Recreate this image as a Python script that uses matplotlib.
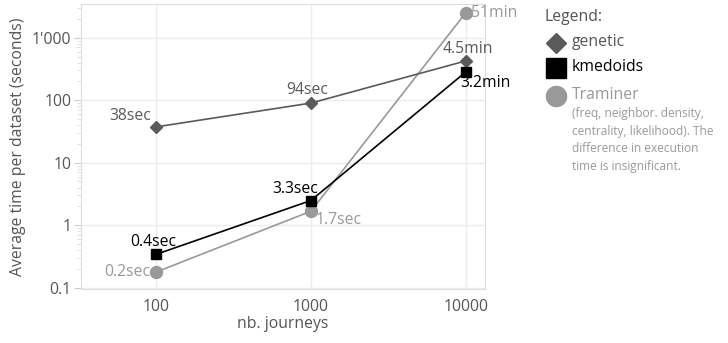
import matplotlib
matplotlib.use("Agg")
import matplotlib.pyplot as plt
from matplotlib.ticker import FixedLocator, FixedFormatter, LogLocator, NullFormatter
from matplotlib.lines import Line2D

plt.rcParams['font.family'] = ['Open Sans', 'DejaVu Sans']

journeys = [100, 1000, 10000]
genetic = [37.4, 90, 426]
kmedoids = [0.34, 2.48, 284]
traminer = [0.177, 1.67, 2520]
genetic_labels = ["38sec", "94sec", "4.5min"]
kmedoids_labels = ["0.4sec", "3.3sec", "3.2min"]
traminer_labels = ["0.2sec", "1.7sec", "51min"]
y_ticks = [0.1, 1, 10, 100, 1000]
y_ticklabels = ["0.1", "1", "10", "100", "1'000"]
x_ticks = [100, 1000, 10000]
x_ticklabels = ["100", "1000", "10000"]

c_gen = "#5a5a5a"
c_km = "#000000"
c_tr = "#999999"
c_txt = "#555555"

fig = plt.figure(figsize=(7.28, 3.43), dpi=100)
ax = fig.add_axes([81/728, 1-289/343, (485-81)/728, (289-4)/343])
ax.set_xscale('log')
ax.set_yscale('log')
ax.set_xlim(32.8, 13300)
ax.set_ylim(0.095, 3470)

ax.plot(journeys, genetic, color=c_gen, lw=1.2, marker='D', ms=5.8, zorder=3)
ax.plot(journeys, kmedoids, color=c_km, lw=1.2, marker='s', ms=6.5, zorder=4)
ax.plot(journeys, traminer, color=c_tr, lw=1.2, marker='o', ms=8.6, zorder=2)

fs = 11.3
def lab(x, y, s, c, dx, dy, ha):
    ax.annotate(s, (x, y), xytext=(dx, dy), textcoords='offset pixels',
                ha=ha, va='center', color=c, fontsize=fs, zorder=5)

# genetic
lab(journeys[0], genetic[0], genetic_labels[0], c_gen, -5, 11, 'right')
lab(journeys[1], genetic[1], genetic_labels[1], c_gen, -4, 13, 'center')
lab(journeys[2], genetic[2], genetic_labels[2], c_gen, 2, 12, 'center')
# kmedoids
lab(journeys[0], kmedoids[0], kmedoids_labels[0], c_km, -3, 12, 'center')
lab(journeys[1], kmedoids[1], kmedoids_labels[1], c_km, -16, 12, 'center')
lab(journeys[2], kmedoids[2], kmedoids_labels[2], c_km, -6, -11, 'left')
# traminer
lab(journeys[0], traminer[0], traminer_labels[0], c_tr, -6, 0, 'right')
lab(journeys[1], traminer[1], traminer_labels[1], c_tr, 5, -9, 'left')
lab(journeys[2], traminer[2], traminer_labels[2], c_tr, 5, 0, 'left')

ax.yaxis.set_major_locator(FixedLocator(y_ticks))
ax.yaxis.set_major_formatter(FixedFormatter(y_ticklabels))
ax.yaxis.set_minor_locator(LogLocator(base=10, subs=range(2, 10)))
ax.yaxis.set_minor_formatter(NullFormatter())
ax.xaxis.set_major_locator(FixedLocator(x_ticks))
ax.xaxis.set_major_formatter(FixedFormatter(x_ticklabels))
ax.xaxis.set_minor_locator(FixedLocator([]))

ax.grid(True, which='major', color='#ececec', lw=1)
ax.set_axisbelow(True)
for s in ax.spines.values():
    s.set_color('#dddddd')
ax.tick_params(axis='y', which='major', length=5, color='#cccccc', labelcolor=c_txt, labelsize=fs, pad=2)
ax.tick_params(axis='y', which='minor', length=3, color='#dddddd')
ax.tick_params(axis='x', which='major', length=0, labelcolor=c_txt, labelsize=fs, pad=7)

ax.set_xlabel("nb. journeys", color=c_txt, fontsize=fs, labelpad=1)
ax.set_ylabel("Average time per dataset (seconds)", color=c_txt, fontsize=fs, labelpad=4)

# legend
def fx(px): return px/728
def fy(py): return 1 - py/343
fig.text(fx(545), fy(17), "Legend:", color=c_txt, fontsize=fs, va='center', ha='left')
legend_items = [("genetic", 'D', c_gen, 10.5, 43), ("kmedoids", 's', c_km, 14.2, 68), ("Traminer", 'o', c_tr, 14.5, 96)]
for name, m, c, ms, py in legend_items:
    fig.add_artist(Line2D([fx(555.5)], [fy(py)], marker=m, color=c, ms=ms, ls='none',
                          transform=fig.transFigure))
    fig.text(fx(572), fy(py - 1), name, color=(c_txt if name == "genetic" else c), fontsize=fs,
             va='center', ha='left')
desc = "(freq, neighbor. density,\ncentrality, likelihood). The\ndifference in execution\ntime is insignificant."
fig.text(fx(572), fy(107), desc, color=c_tr, fontsize=8.6, va='top', ha='left', linespacing=1.46)

fig.savefig("out.png", dpi=100)
